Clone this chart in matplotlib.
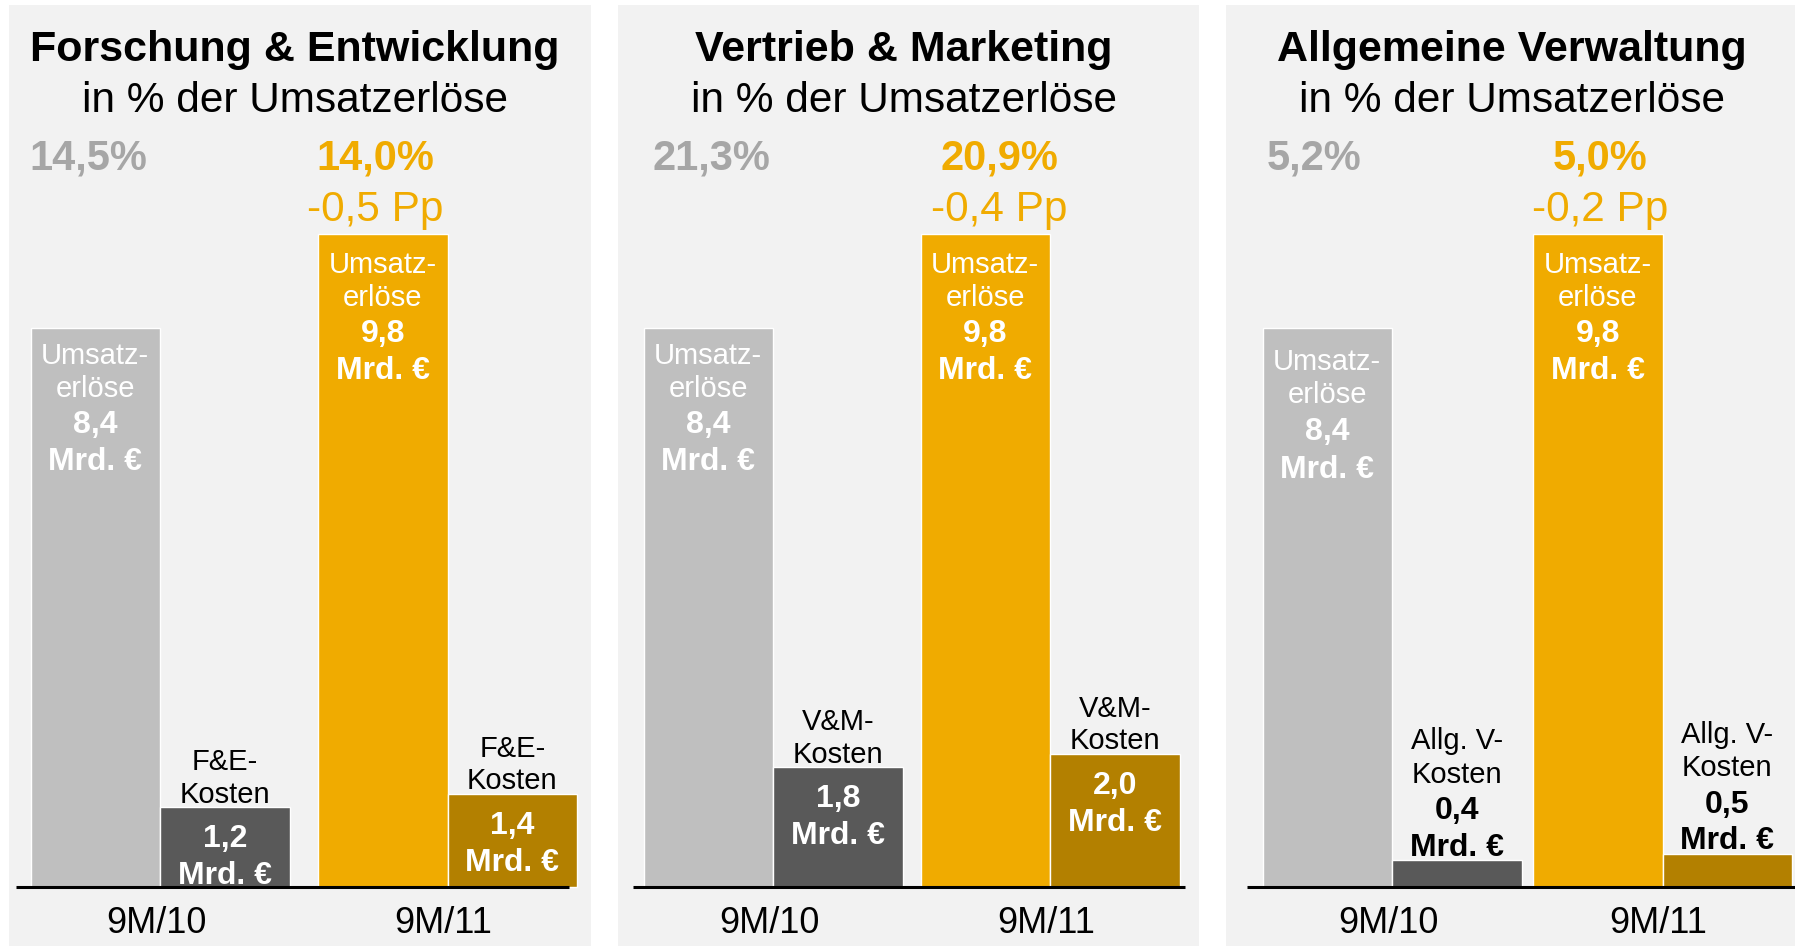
import matplotlib
matplotlib.use("Agg")
import matplotlib.pyplot as plt

plt.rcParams['font.family'] = ['Liberation Sans', 'DejaVu Sans']

# ---------------- data ----------------
titles = ["Forschung & Entwicklung", "Vertrieb & Marketing", "Allgemeine Verwaltung"]
subtitle = "in % der Umsatzerlöse"
periods = ["9M/10", "9M/11"]
revenue = [8.4, 9.8]                     # Mrd. €
rd_costs = [1.2, 1.4]
sm_costs = [1.8, 2.0]
ga_costs = [0.4, 0.5]
rd_ratio = ["14,5%", "14,0%"]
sm_ratio = ["21,3%", "20,9%"]
ga_ratio = ["5,2%", "5,0%"]
ratio_change = ["-0,5 Pp", "-0,4 Pp", "-0,2 Pp"]
cost_names = ["F&E-\nKosten", "V&M-\nKosten", "Allg. V-\nKosten"]
revenue_name = "Umsatz-\nerlöse"

costs = [rd_costs, sm_costs, ga_costs]
ratios = [rd_ratio, sm_ratio, ga_ratio]

# ---------------- style / layout ----------------
W, H = 1795, 946
PANEL_BG = "#f2f2f2"
C_REV = ["#bfbfbf", "#f0ab00"]
C_COST = ["#595959", "#b38000"]
C_RATIO = ["#a6a6a6", "#f0ab00"]

P_LEFT = [9, 618, 1226]
P_WIDTH = [582, 581, 582]
P_TOP = 5
BASE = 887          # baseline px from top
SCALE = 66.6        # px per Mrd. €
BAR_W = 129.5
GROUP_C = [[151, 438.5], [155, 432], [166, 436.5]]
AXLINE = [[7, 560], [15, 567], [21, 575]]
PCT_X = [[79, 366], [93, 381], [88, 374]]
REV_OFF = [[[28, 61, 97, 134], [31, 64, 100, 137]],
           [[28, 61, 97, 134], [31, 64, 100, 137]],
           [[34, 67, 104, 142], [31, 64, 100, 137]]]
TXT_DY = 4

fig = plt.figure(figsize=(W / 100, H / 100), dpi=100)
fig.patch.set_facecolor("white")


def yv(px):
    return (BASE - px) / SCALE


for p in range(3):
    ax = fig.add_axes([P_LEFT[p] / W, 0, P_WIDTH[p] / W, (H - P_TOP) / H])
    ax.set_facecolor(PANEL_BG)
    ax.set_xlim(0, P_WIDTH[p])
    ax.set_ylim(yv(H), yv(P_TOP))
    ax.axis("off")
    ax.add_patch(plt.Rectangle((0, 0), 1, 1, transform=ax.transAxes,
                               facecolor=PANEL_BG, edgecolor="none", zorder=0))

    # titles
    ax.text(286, yv(46 + TXT_DY), titles[p], ha="center", va="center",
            fontsize=31, fontweight="bold", color="black")
    ax.text(286, yv(97 + TXT_DY), subtitle, ha="center", va="center",
            fontsize=30.5, color="black")

    for g in range(2):
        c = GROUP_C[p][g]
        xr = c - BAR_W / 2
        xc = c + BAR_W / 2
        ax.bar(xr, revenue[g], width=BAR_W, color=C_REV[g],
               edgecolor="white", linewidth=1, zorder=2)
        ax.bar(xc, costs[p][g], width=BAR_W, color=C_COST[g],
               edgecolor="white", linewidth=1, zorder=2)

        # ratio header
        ax.text(PCT_X[p][g], yv(154.5 + TXT_DY), ratios[p][g], ha="center",
                va="center", fontsize=30, fontweight="bold", color=C_RATIO[g])
        if g == 1:
            ax.text(PCT_X[p][g], yv(206 + TXT_DY), ratio_change[p], ha="center",
                    va="center", fontsize=30.5, color=C_RATIO[g])

        # revenue labels inside the bar
        top_px = BASE - revenue[g] * SCALE
        n1, n2 = revenue_name.split("\n")
        val = f"{revenue[g]:.1f}".replace(".", ",")
        offs = REV_OFF[p][g]
        for txt, off, wt, fs in [(n1, offs[0], "normal", 21),
                                 (n2, offs[1], "normal", 21),
                                 (val, offs[2], "bold", 23),
                                 ("Mrd. €", offs[3], "bold", 23)]:
            ax.text(xr, yv(top_px + off), txt, ha="center", va="center",
                    fontsize=fs, fontweight=wt, color="white", zorder=3)

        # cost labels
        ctop = BASE - costs[p][g] * SCALE
        c1, c2 = cost_names[p].split("\n")
        cval = f"{costs[p][g]:.1f}".replace(".", ",")
        if p < 2:
            items = [(c1, -45, "normal", 21, "black"),
                     (c2, -12.5, "normal", 21, "black"),
                     (cval, 32, "bold", 23, "white"),
                     ("Mrd. €", 69, "bold", 23, "white")]
        else:
            items = [(c1, -119, "normal", 21, "black"),
                     (c2, -85.5, "normal", 21, "black"),
                     (cval, -49, "bold", 23, "black"),
                     ("Mrd. €", -12.5, "bold", 23, "black")]
        for txt, off, wt, fs, col in items:
            ax.text(xc, yv(ctop + off), txt, ha="center", va="center",
                    fontsize=fs, fontweight=wt, color=col, zorder=3)

        # category label
        ax.text(c - 4, yv(919 + TXT_DY), periods[g], ha="center", va="center",
                fontsize=26, color="black")

    ax.hlines(0, AXLINE[p][0], AXLINE[p][1], color="black", linewidth=2.2,
              zorder=4)

fig.savefig("out.png", dpi=100, facecolor="white")
